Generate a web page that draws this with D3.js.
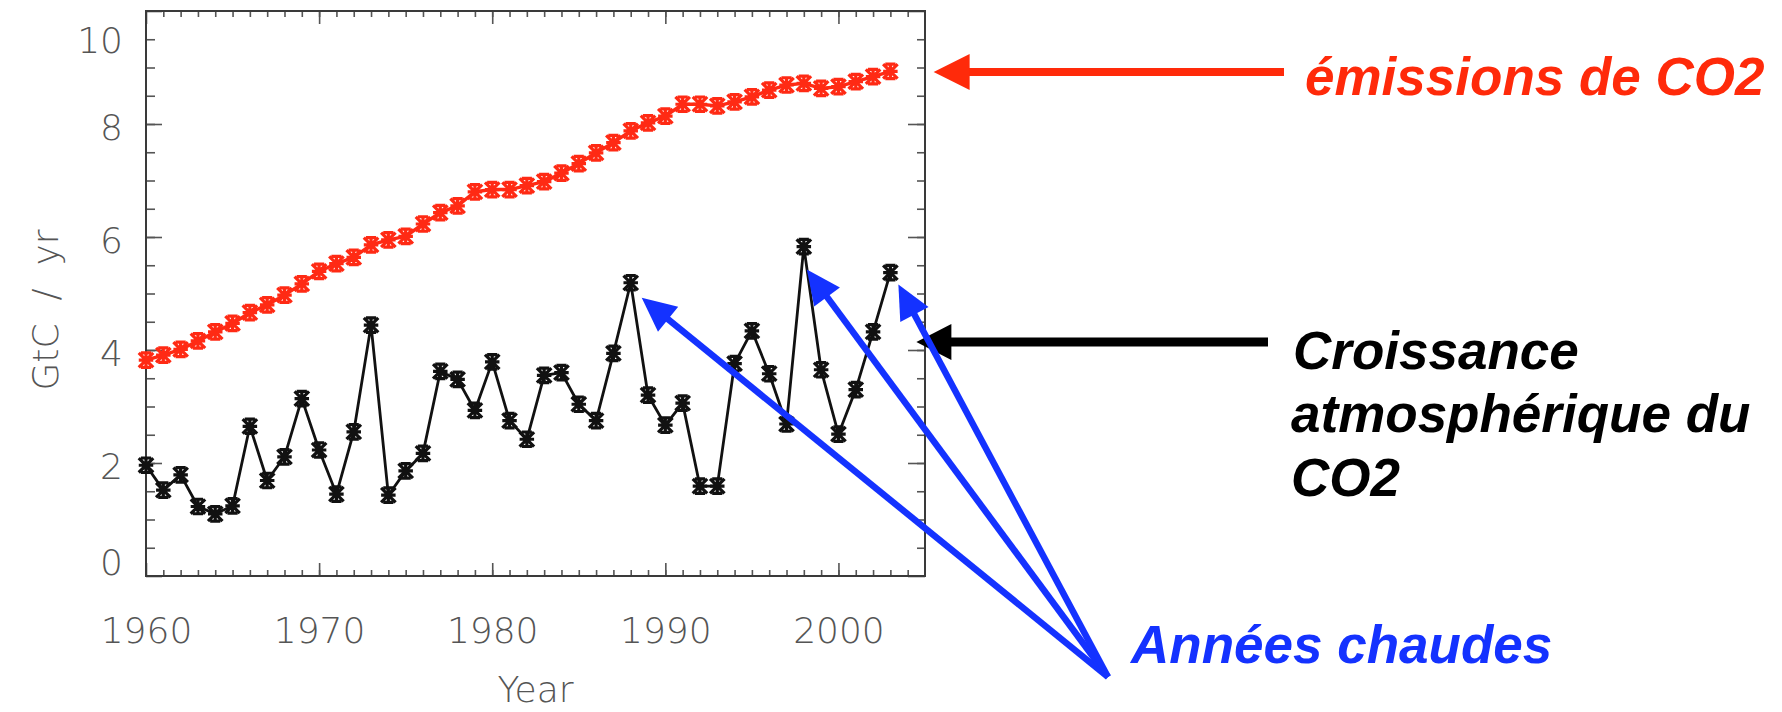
<!DOCTYPE html>
<html>
<head>
<meta charset="utf-8">
<script src="https://cdn.jsdelivr.net/npm/d3@7"></script>
<style>
  body { margin: 0; background: #fff; }
  svg { display: block; }
</style>
</head>
<body>
<div id="chart"></div>
<script>
// years and series
var years = d3.range(1960, 2004);
var emissions = [3.82, 3.91, 4.01, 4.16, 4.32, 4.47, 4.66, 4.80, 4.97, 5.17,
                 5.39, 5.53, 5.64, 5.86, 5.95, 6.01, 6.23, 6.43, 6.55, 6.80,
                 6.84, 6.84, 6.91, 6.98, 7.13, 7.30, 7.49, 7.67, 7.88, 8.02,
                 8.14, 8.35, 8.35, 8.32, 8.39, 8.48, 8.60, 8.69, 8.72, 8.63,
                 8.66, 8.75, 8.84, 8.93];
var growth = [1.96, 1.52, 1.79, 1.23, 1.10, 1.24, 2.65, 1.69, 2.11, 3.14,
              2.23, 1.45, 2.55, 4.44, 1.43, 1.86, 2.17, 3.62, 3.48, 2.93,
              3.79, 2.75, 2.42, 3.55, 3.60, 3.04, 2.75, 3.94, 5.19, 3.20,
              2.67, 3.06, 1.59, 1.59, 3.76, 4.34, 3.58, 2.69, 5.83, 3.65,
              2.51, 3.30, 4.32, 5.37];
var hotYears = [1988, 1998, 2003];
var xMajor = [1960, 1970, 1980, 1990, 2000];
var yMajor = [0, 2, 4, 6, 8, 10];

var W = 1782, H = 712;
var plotL = 146, plotR = 925, plotT = 11, plotB = 576;

var svg = d3.select("#chart").append("svg")
  .attr("width", W).attr("height", H);

var x = d3.scaleLinear().domain([1960, 2005]).range([plotL, plotR]);
var y = d3.scaleLinear().domain([0, 10]).range([plotB, plotT]);

var tickColor = "#555";
var labelFont = "'DejaVu Sans', sans-serif";

function styleAxis(g) {
  g.select(".domain").remove();
  g.selectAll(".tick line").attr("stroke", tickColor).attr("stroke-width", 1.6);
  g.selectAll(".tick text")
    .attr("fill", "#555")
    .style("font-family", labelFont)
    .style("font-weight", 200)
    .style("font-size", "36px");
}

// minor ticks
var minorX = d3.range(1961, 2005);
var minorY = d3.range(0.5, 10, 0.5);

svg.append("g").attr("transform", "translate(0," + plotB + ")")
  .call(d3.axisBottom(x).tickValues(minorX).tickSize(-6).tickFormat(""))
  .call(styleAxis);
svg.append("g").attr("transform", "translate(0," + plotT + ")")
  .call(d3.axisTop(x).tickValues(minorX).tickSize(-6).tickFormat(""))
  .call(styleAxis);
svg.append("g").attr("transform", "translate(" + plotL + ",0)")
  .call(d3.axisLeft(y).tickValues(minorY).tickSize(-9).tickFormat(""))
  .call(styleAxis);
svg.append("g").attr("transform", "translate(" + plotR + ",0)")
  .call(d3.axisRight(y).tickValues(minorY).tickSize(-8).tickFormat(""))
  .call(styleAxis);

// major ticks + labels
svg.append("g").attr("transform", "translate(0," + plotB + ")")
  .call(d3.axisBottom(x).tickValues(xMajor).tickSize(-13).tickPadding(41).tickFormat(d3.format("d")))
  .call(styleAxis);
svg.append("g").attr("transform", "translate(0," + plotT + ")")
  .call(d3.axisTop(x).tickValues(xMajor).tickSize(-13).tickFormat(""))
  .call(styleAxis);
var yAx = svg.append("g").attr("transform", "translate(" + plotL + ",0)")
  .call(d3.axisLeft(y).tickValues(yMajor).tickSize(-16).tickPadding(23))
  .call(styleAxis);
yAx.selectAll(".tick text").attr("dy", function(d) {
  if (d === 10) return "1.15em";
  if (d === 0) return "-0.05em";
  return "0.42em";
});
svg.append("g").attr("transform", "translate(" + plotR + ",0)")
  .call(d3.axisRight(y).tickValues(yMajor).tickSize(-17).tickFormat(""))
  .call(styleAxis);

// frame
svg.append("rect")
  .attr("x", plotL).attr("y", plotT)
  .attr("width", plotR - plotL).attr("height", plotB - plotT)
  .attr("fill", "none").attr("stroke", "#3a3a3a").attr("stroke-width", 2);

// axis titles
svg.append("text")
  .attr("x", x(1982.5)).attr("y", 702)
  .attr("text-anchor", "middle")
  .attr("fill", "#555")
  .style("font-family", labelFont).style("font-weight", 200).style("font-size", "36px")
  .text("Year");
svg.append("text")
  .attr("transform", "translate(58," + 310 + ") rotate(-90)")
  .attr("text-anchor", "middle")
  .attr("fill", "#555")
  .style("white-space", "pre")
  .style("font-family", labelFont).style("font-weight", 200).style("font-size", "36px")
  .text("GtC  /  yr");

// asterisk marker
var asterisk = {
  draw: function(ctx, size) {
    var r = Math.sqrt(size) / 2;
    ctx.moveTo(-r, -r); ctx.lineTo(r, r);
    ctx.moveTo(r, -r); ctx.lineTo(-r, r);
    ctx.moveTo(0, -r); ctx.lineTo(0, r);
    ctx.moveTo(-r, 0); ctx.lineTo(r, 0);
    ctx.moveTo(-r * 0.7, -r); ctx.lineTo(r * 0.7, -r);
    ctx.moveTo(-r * 0.7, r); ctx.lineTo(r * 0.7, r);
  }
};
var marker = d3.symbol().type(asterisk).size(210);

function drawSeries(values, color, lw) {
  var pts = years.map(function(yr, i) { return [yr, values[i]]; });
  var line = d3.line().x(function(d) { return x(d[0]); }).y(function(d) { return y(d[1]); });
  svg.append("path").datum(pts)
    .attr("d", line)
    .attr("fill", "none").attr("stroke", color).attr("stroke-width", lw)
    .attr("stroke-linejoin", "round");
  svg.append("g").selectAll("path").data(pts).enter().append("path")
    .attr("transform", function(d) { return "translate(" + x(d[0]) + "," + y(d[1]) + ")"; })
    .attr("d", marker)
    .attr("fill", "none").attr("stroke", color).attr("stroke-width", 3.2);
}
drawSeries(emissions, "#ff2a14", 3.4);
drawSeries(growth, "#111", 2.8);

// arrows
function arrow(x1, y1, x2, y2, color, w, hl, hw) {
  var dx = x2 - x1, dy = y2 - y1, len = Math.sqrt(dx * dx + dy * dy);
  var ux = dx / len, uy = dy / len;
  var bx = x2 - ux * hl, by = y2 - uy * hl;
  svg.append("line")
    .attr("x1", x1).attr("y1", y1).attr("x2", bx + ux * 2).attr("y2", by + uy * 2)
    .attr("stroke", color).attr("stroke-width", w);
  svg.append("path")
    .attr("d", "M" + x2 + "," + y2 +
      "L" + (bx - uy * hw) + "," + (by + ux * hw) +
      "L" + (bx + uy * hw) + "," + (by - ux * hw) + "Z")
    .attr("fill", color);
}

var annFont = "'Liberation Sans', Arial, sans-serif";
function label(txt, tx, ty, color) {
  svg.append("text").attr("x", tx).attr("y", ty)
    .attr("fill", color)
    .style("font-family", annFont).style("font-weight", "bold")
    .style("font-style", "italic").style("font-size", "53px")
    .text(txt);
}

// emissions arrow
arrow(1284, 72, x(2005.5), 72, "#ff2a0a", 8, 36, 18);
label("émissions de CO2", 1305, 95, "#ff2a0a");

// growth arrow
arrow(1268, 342, x(2004.5), 342, "#000", 9, 35, 18);
label("Croissance", 1293, 369, "#000");
label("atmosphérique du", 1291, 432, "#000");
label("CO2", 1291, 496, "#000");

// hot years
var tipOffsets = [[11, 15], [3, 23], [8, 12]];
hotYears.forEach(function(yr, i) {
  var v = growth[years.indexOf(yr)];
  arrow(1108, 677, x(yr) + tipOffsets[i][0], y(v) + tipOffsets[i][1], "#1432ff", 6.5, 34, 16);
});
label("Années chaudes", 1131, 663, "#1432ff");
</script>
</body>
</html>
